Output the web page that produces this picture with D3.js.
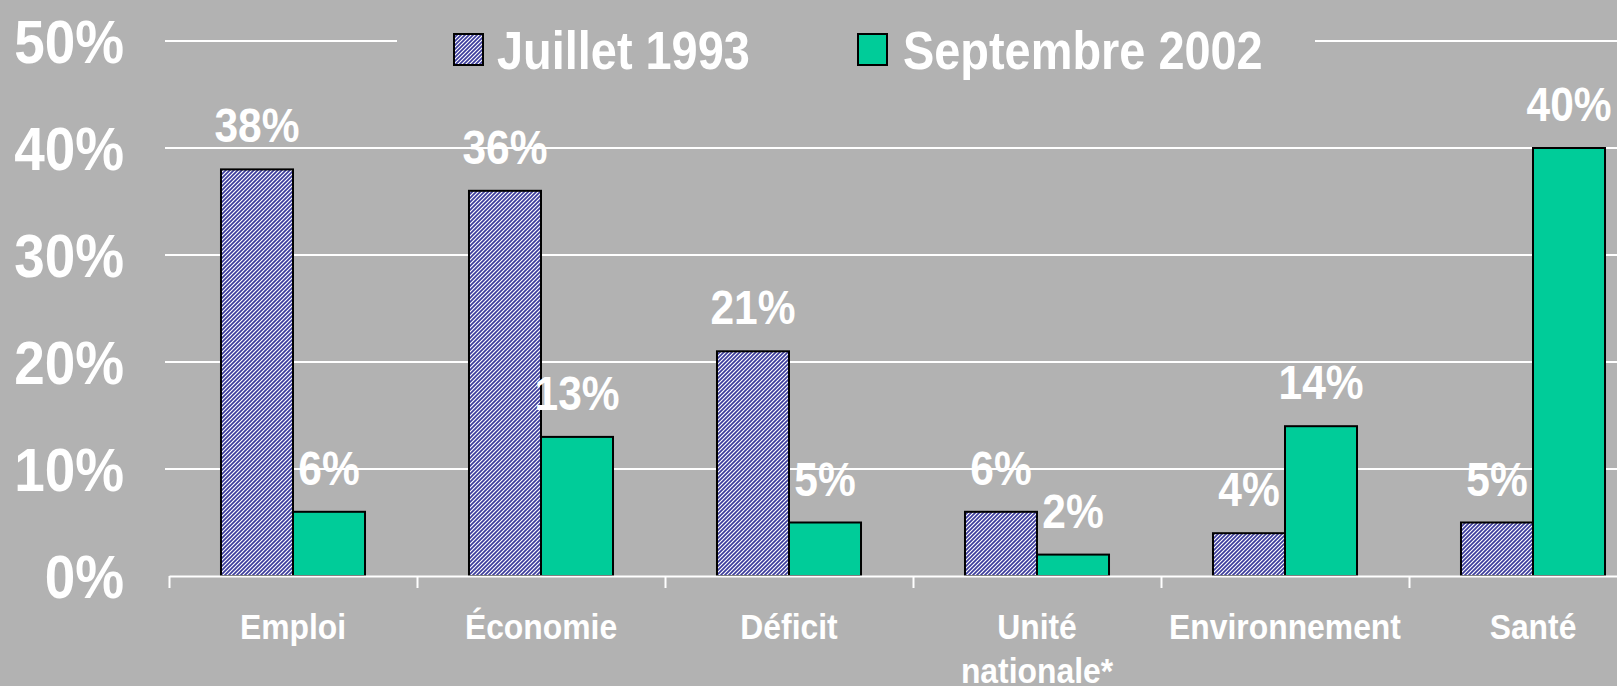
<!DOCTYPE html>
<html><head><meta charset="utf-8">
<script src="https://cdn.jsdelivr.net/npm/d3@7"></script>
<style>
html,body{margin:0;padding:0;background:#b2b2b2;overflow:hidden;}
text{font-family:"Liberation Sans",Arial,sans-serif;font-weight:bold;fill:#fff;}
</style></head>
<body>
<svg id="chart" width="1617" height="686"></svg>
<script>
const categories = ["Emploi", "Économie", "Déficit", "Unité\nnationale*", "Environnement", "Santé"];
const seriesNames = ["Juillet 1993", "Septembre 2002"];
const juillet1993 = [38, 36, 21, 6, 4, 5];
const septembre2002 = [6, 13, 5, 2, 14, 40];
const yTicks = [0, 10, 20, 30, 40, 50];

(function () {
const W = 1617, H = 686;
const pLeft = 169, pRight = 1657, pTop = 41, pBottom = 576;
const SX = 0.885;
const bg = "#b2b2b2", green = "#00cc99", hatchColor = "#3c3c9c";

const svg = d3.select("#chart");
svg.append("rect").attr("width", W).attr("height", H).attr("fill", bg);

const defs = svg.append("defs");
const pat = defs.append("pattern").attr("id", "hatch").attr("patternUnits", "userSpaceOnUse")
  .attr("width", 4).attr("height", 4);
pat.append("rect").attr("width", 4).attr("height", 4).attr("fill", "#fff");
pat.append("path").attr("d", "M-1,1 l2,-2 M0,4 l4,-4 M3,5 l2,-2")
  .attr("stroke", hatchColor).attr("stroke-width", 1.7);

const x0 = d3.scaleBand().domain(categories).range([pLeft, pRight]).padding(0);
const x1 = d3.scaleBand().domain(seriesNames).range([0, x0.bandwidth()]).paddingInner(0).paddingOuter(0.722);
const y = d3.scaleLinear().domain([0, 50]).range([pBottom, pTop]);
const fills = {"Juillet 1993": "url(#hatch)", "Septembre 2002": green};
const seriesData = {"Juillet 1993": juillet1993, "Septembre 2002": septembre2002};

function sText(g, x, yy, str, size, anchor) {
  return g.append("text").attr("transform", `translate(${x},${yy}) scale(${SX},1)`)
    .attr("font-size", size).attr("text-anchor", anchor || "middle").text(str);
}

// gridlines
const grid = svg.append("g");
grid.selectAll("line").data(yTicks.filter(d => d > 0)).join("line")
  .attr("x1", pLeft - 4).attr("x2", W).attr("y1", d => y(d)).attr("y2", d => y(d))
  .attr("stroke", "#fff").attr("stroke-width", 2);

// y tick labels
const yl = svg.append("g");
yTicks.forEach(t => sText(yl, 124, y(t) + 22, t + "%", 62, "end"));

// bars
const barsG = svg.append("g");
seriesNames.forEach(s => {
  barsG.append("g").selectAll("rect").data(categories.map((c, i) => ({c, v: seriesData[s][i]}))).join("rect")
    .attr("x", d => x0(d.c) + x1(s)).attr("width", x1.bandwidth())
    .attr("y", d => y(d.v)).attr("height", d => y(0) - y(d.v))
    .attr("fill", fills[s]).attr("stroke", "#000").attr("stroke-width", 2);
});

// x axis
const xt = d3.scaleLinear().domain([0, categories.length]).range([pLeft, pRight]);
const axG = svg.append("g").attr("transform", `translate(0,${pBottom})`)
  .call(d3.axisBottom(xt).tickValues(d3.range(categories.length + 1)).tickSize(12).tickSizeOuter(0).tickFormat(""));
axG.select(".domain").attr("stroke", "#fff").attr("stroke-width", 2);
axG.selectAll(".tick line").attr("stroke", "#fff").attr("stroke-width", 2);

// value labels
const lab = svg.append("g");
seriesNames.forEach(s => {
  categories.forEach((c, i) => {
    const v = seriesData[s][i];
    sText(lab, x0(c) + x1(s) + x1.bandwidth() / 2, y(v) - 27, v + "%", 48);
  });
});

// category labels
const cl = svg.append("g");
categories.forEach(c => {
  c.split("\n").forEach((line, k) => {
    sText(cl, x0(c) + x0.bandwidth() / 2, 639 + k * 44, line, 36);
  });
});

// legend
const lg = svg.append("g");
lg.append("rect").attr("x", 397).attr("y", 20).attr("width", 1315 - 397).attr("height", 60).attr("fill", bg);
const legendPos = [{sw: 454, tx: 497}, {sw: 858, tx: 903}];
seriesNames.forEach((s, i) => {
  lg.append("rect").attr("x", legendPos[i].sw).attr("y", 34).attr("width", 29).attr("height", 31)
    .attr("fill", fills[s]).attr("stroke", "#000").attr("stroke-width", 2);
  sText(lg, legendPos[i].tx, 69, s, 53, "start");
});
})();
</script>
</body></html>
